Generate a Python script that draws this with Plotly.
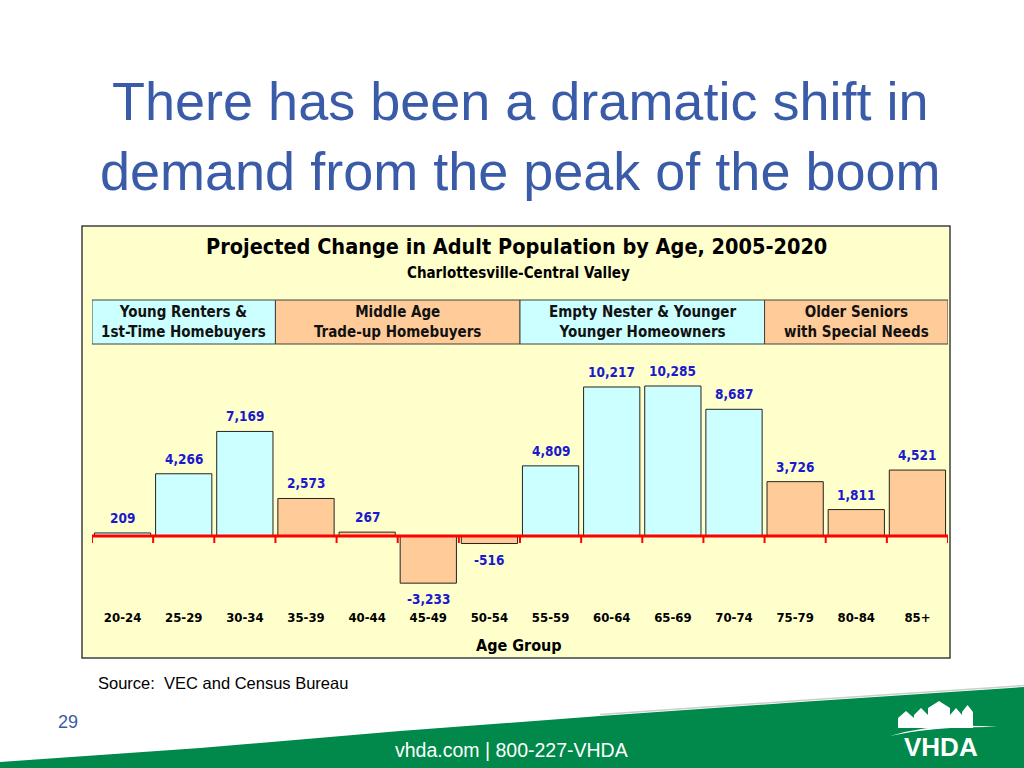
import plotly.graph_objects as go

# ---------------- data ----------------
age_groups = ["20-24", "25-29", "30-34", "35-39", "40-44", "45-49", "50-54",
              "55-59", "60-64", "65-69", "70-74", "75-79", "80-84", "85+"]
pop_change = [209, 4266, 7169, 2573, 267, -3233, -516,
              4809, 10217, 10285, 8687, 3726, 1811, 4521]
segment_names = ["Young Renters &<br>1st-Time Homebuyers",
                 "Middle Age<br>Trade-up Homebuyers",
                 "Empty Nester & Younger<br>Younger Homeowners",
                 "Older Seniors<br>with Special Needs"]
segment_sizes = [3, 4, 4, 3]

CYAN = "#CCFFFF"
PEACH = "#FFCC99"
segment_colors = [CYAN, PEACH, CYAN, PEACH]

W, H = 1024, 768
def px(x):
    return x / W
def py(y):
    return 1 - y / H

NARROW = "Liberation Sans Narrow, Arial Narrow, DejaVu Sans Condensed, sans-serif"
SANS = "Liberation Sans, Arial, sans-serif"
TITLE_BLUE = "#3A5BA8"
LABEL_BLUE = "#1A1ACC"

bar_colors = []
for c, n in zip(segment_colors, segment_sizes):
    bar_colors += [c] * n

xs = list(range(len(age_groups)))

fig = go.Figure()
fig.add_trace(go.Bar(
    x=xs, y=pop_change,
    marker=dict(color=bar_colors, line=dict(color="#222222", width=1)),
    width=0.92, hoverinfo="skip", showlegend=False,
))

plot_top, plot_bot = 345, 608
zero_px = 536
scale = (536 - 386) / 10285.0  # pixels per unit
y_max = (zero_px - plot_top) / scale
y_min = -(plot_bot - zero_px) / scale

shapes = []
annotations = []

def note(x, y, text, size, color="#000000", family=NARROW, xref="paper", yref="paper",
         xanchor="center", **kw):
    d = dict(xref=xref, yref=yref, x=x, y=y, text=text, showarrow=False,
             xanchor=xanchor, yanchor="middle",
             font=dict(family=family, size=size, color=color))
    d.update(kw)
    annotations.append(d)

# chart box
shapes.append(dict(type="rect", xref="paper", yref="paper",
                   x0=px(82), x1=px(950), y0=py(658), y1=py(226),
                   fillcolor="#FFFFCC", line=dict(color="#404040", width=1.5),
                   layer="below"))

# segment boxes
start = -0.5
for name, n, col in zip(segment_names, segment_sizes, segment_colors):
    shapes.append(dict(type="rect", xref="x", yref="paper",
                       x0=start, x1=start + n, y0=py(344), y1=py(300),
                       fillcolor=col, line=dict(color="#404040", width=1)))
    note(start + n / 2, py(322), "<b>" + name + "</b>", 15, color="#111111",
         xref="x", align="center")
    start += n

# red zero axis line and ticks
tick_len = 7 / scale
shapes.append(dict(type="line", xref="x", yref="y", x0=-0.5, x1=len(age_groups) - 0.5,
                   y0=0, y1=0, line=dict(color="#FF0000", width=3)))
for k in range(len(age_groups) + 1):
    shapes.append(dict(type="line", xref="x", yref="y", x0=k - 0.5, x1=k - 0.5,
                       y0=0, y1=-tick_len, line=dict(color="#FF0000", width=2)))

# value labels
for i, v in enumerate(pop_change):
    note(i, v, "<b>{:,}</b>".format(v), 13.5, color=LABEL_BLUE, xref="x", yref="y",
         yshift=15 if v >= 0 else -16)

# chart titles
note(px(516), py(247), "<b>Projected Change in Adult Population by Age, 2005-2020</b>", 21.5)
note(px(518), py(273), "<b>Charlottesville-Central Valley</b>", 15)
note(px(519), py(645), "<b>Age Group</b>", 16)

# slide title
note(px(520), py(136), "There has been a dramatic shift in<br>demand from the peak of the boom",
     54, color=TITLE_BLUE, family=SANS, align="center")

# source
note(px(96), py(683), "Source:  VEC and Census Bureau", 16.5, family=SANS, xanchor="left")

# green swoosh
curve = [(0, 762), (200, 748), (400, 731), (600, 716), (800, 702), (1024, 687)]
path = "M {} {}".format(px(0), py(768))
for x, y in curve:
    path += " L {} {}".format(px(x), py(y))
path += " L {} {} Z".format(px(1024), py(768))
shapes.append(dict(type="path", xref="paper", yref="paper", path=path,
                   fillcolor="#00894A", line=dict(width=0)))
shadow = [(600, 714.5), (800, 700.5), (1024, 685.5)]
spath = "M " + " L ".join("{} {}".format(px(x), py(y)) for x, y in shadow)
shapes.append(dict(type="path", xref="paper", yref="paper", path=spath,
                   line=dict(color="#C8D0CA", width=1.5)))

note(px(511), py(750), "vhda.com | 800-227-VHDA", 19.5, color="#FFFFFF", family=SANS)
note(px(68), py(722), "29", 18, color=TITLE_BLUE, family=SANS)

# logo (simplified)
note(px(941), py(747), "<b>VHDA</b>", 26, color="#FFFFFF", family=SANS)
arc = "M {} {} Q {} {} {} {} Q {} {} {} {} Z".format(
    px(890), py(736), px(935), py(722), px(998), py(727),
    px(935), py(726), px(890), py(736))
shapes.append(dict(type="path", xref="paper", yref="paper", path=arc,
                   fillcolor="#FFFFFF", line=dict(width=0)))
houses = [(898, 714, 914, 728), (914, 711, 928, 728), (928, 704, 950, 728),
          (950, 711, 962, 728), (962, 708, 973, 728)]
for x0, y0, x1, y1 in houses:
    shapes.append(dict(type="path", xref="paper", yref="paper",
                       path="M {} {} L {} {} L {} {} L {} {} L {} {} Z".format(
                           px(x0), py(y1), px(x0), py(y0 + 4), px((x0 + x1) / 2), py(y0 - 3),
                           px(x1), py(y0 + 4), px(x1), py(y1)),
                       fillcolor="#FFFFFF", line=dict(width=0)))

fig.update_layout(
    width=W, height=H,
    margin=dict(l=0, r=0, t=0, b=0),
    paper_bgcolor="#FFFFFF", plot_bgcolor="rgba(0,0,0,0)",
    shapes=shapes, annotations=annotations,
    xaxis=dict(domain=[px(92), px(948)], range=[-0.5, len(age_groups) - 0.5],
               tickmode="array", tickvals=xs,
               ticktext=["<b>" + a + "</b>" for a in age_groups],
               tickfont=dict(family=NARROW, size=13, color="#000000"),
               showgrid=False, zeroline=False, showline=False, ticks="",
               fixedrange=True),
    yaxis=dict(domain=[py(plot_bot), py(plot_top)], range=[y_min, y_max],
               visible=False, showgrid=False, zeroline=False, fixedrange=True),
    bargap=0.08,
)

fig.write_html("out.html", config={"displayModeBar": False},
               post_script="document.body.style.margin='0';document.body.style.overflow='hidden';")
